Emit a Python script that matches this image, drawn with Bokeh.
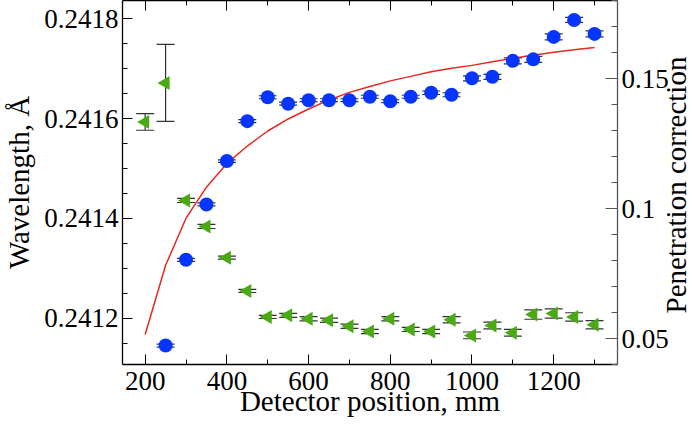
import math
import numpy as np
from bokeh.plotting import figure
from bokeh.models import ColumnDataSource, Range1d, LinearAxis, FixedTicker, Whisker, TeeHead, Div
from bokeh.layouts import row
from bokeh.embed import file_html
from bokeh.resources import INLINE

# ---------------- data ----------------
positions_blue = [250, 300, 350, 400, 450, 500, 550, 600, 650, 700, 750, 800,
                  850, 900, 950, 1000, 1050, 1100, 1150, 1200, 1250, 1300]
wavelength = [0.241145, 0.241317, 0.241428, 0.241515, 0.241595, 0.241643, 0.241630,
              0.241637, 0.241637, 0.241637, 0.241644, 0.241635, 0.241644, 0.241652,
              0.241648, 0.241681, 0.241684, 0.241716, 0.241719, 0.241764, 0.241798,
              0.241770]
wavelength_err = [3e-6, 3e-6, 3e-6, 2.5e-6, 3e-6, 3e-6, 3e-6, 3e-6, 3e-6, 3e-6, 3e-6,
                  3e-6, 3e-6, 3.5e-6, 4e-6, 5e-6, 5e-6, 6e-6, 6e-6, 6e-6, 5e-6, 6e-6]

positions_green = [200, 250, 300, 350, 400, 450, 500, 550, 600, 650, 700, 750, 800,
                   850, 900, 950, 1000, 1050, 1100, 1150, 1200, 1250, 1300]
penetration = [0.1333, 0.1483, 0.1031, 0.0931, 0.0811, 0.0683, 0.0583, 0.0589, 0.0576,
               0.0570, 0.0547, 0.0527, 0.0576, 0.0535, 0.0527, 0.0572, 0.0512, 0.0550,
               0.0522, 0.0592, 0.0596, 0.0583, 0.0553]
penetration_err = [0.0032, 0.0148, 0.0008, 0.0008, 0.0006, 0.0006, 0.0006, 0.0008, 0.0008,
                   0.0008, 0.0008, 0.0008, 0.0008, 0.0008, 0.0008, 0.0012, 0.0013, 0.0013,
                   0.0013, 0.0018, 0.0018, 0.0016, 0.0016]

fit_positions = [200, 250, 300, 350, 400, 450, 500, 550, 600, 650, 700, 750, 800,
                 850, 900, 950, 1000, 1050, 1100, 1150, 1200, 1250, 1300]
fit_wavelength = [0.2411672, 0.2413059, 0.2414004, 0.2414627, 0.2415099, 0.2415451,
                  0.2415753, 0.2415994, 0.2416195, 0.2416376, 0.2416527, 0.2416647,
                  0.2416758, 0.2416848, 0.2416939, 0.2417009, 0.2417069, 0.2417140,
                  0.2417210, 0.2417271, 0.2417331, 0.2417381, 0.2417427]

x_ticks = [200, 400, 600, 800, 1000, 1200]
x_tick_labels = ["200", "400", "600", "800", "1000", "1200"]
x_minor_ticks = [100, 300, 500, 700, 900, 1100, 1300]

left_ticks = [0.2412, 0.2414, 0.2416, 0.2418]
left_tick_labels = ["0.2412", "0.2414", "0.2416", "0.2418"]
left_minor_ticks = [round(0.2411 + 0.00005 * i, 5) for i in range(16)]

right_ticks = [0.05, 0.1, 0.15]
right_tick_labels = ["0.05", "0.1", "0.15"]
right_minor_ticks = [round(0.04 + 0.01 * i, 2) for i in range(15)]

x_label = "Detector position, mm"
left_label = "Wavelength, Å"
right_label = "Penetration correction"

# ---------------- style ----------------
FONT = "Liberation Serif"
BLUE = "#0535ff"
GREEN = "#4aaa14"
RED = "#e8281e"
ERR = "#333333"

fig = figure(width=671, height=427,
             x_range=Range1d(144.5, 1356.2), y_range=Range1d(0.2411070, 0.2418370),
             output_backend="svg", toolbar_location=None,
             min_border_left=117, min_border_right=52, min_border_top=0, min_border_bottom=63,
             background_fill_color="white", border_fill_color="white", outline_line_color=None)
fig.extra_y_ranges = {"right": Range1d(0.0400, 0.1800)}
fig.xgrid.grid_line_color = None
fig.ygrid.grid_line_color = None


def style_axis(ax, color="black", tick_in=10, minor_in=5):
    ax.axis_line_color = color
    ax.axis_line_width = 1.3
    ax.major_tick_line_color = color
    ax.minor_tick_line_color = color
    ax.major_tick_in = tick_in
    ax.major_tick_out = 0
    ax.minor_tick_in = minor_in
    ax.minor_tick_out = 0
    ax.major_label_text_font = FONT
    ax.major_label_text_font_size = "27px"
    ax.major_label_text_color = "black"
    ax.axis_label_text_font = FONT
    ax.axis_label_text_font_size = "29px"
    ax.axis_label_text_font_style = "normal"
    ax.axis_label_text_color = "black"


xa = fig.xaxis[0]
xa.ticker = FixedTicker(ticks=x_ticks, minor_ticks=x_minor_ticks)
xa.major_label_overrides = dict(zip(x_ticks, x_tick_labels))
xa.axis_label = x_label
style_axis(xa)
xa.major_label_standoff = 7
xa.axis_label_standoff = -8

ya = fig.yaxis[0]
ya.ticker = FixedTicker(ticks=left_ticks, minor_ticks=left_minor_ticks)
ya.major_label_overrides = dict(zip(left_ticks, left_tick_labels))
ya.axis_label = left_label
style_axis(ya)
ya.major_label_standoff = 4
ya.axis_label_standoff = 6

top = LinearAxis(ticker=FixedTicker(ticks=x_ticks, minor_ticks=x_minor_ticks))
style_axis(top)
top.major_label_text_font_size = "1px"
top.major_label_text_color = None
top.major_label_standoff = 0
fig.add_layout(top, "above")

ra = LinearAxis(y_range_name="right",
                ticker=FixedTicker(ticks=right_ticks, minor_ticks=right_minor_ticks))
style_axis(ra, color="#555555", tick_in=12, minor_in=6)
ra.major_label_overrides = dict(zip(right_ticks, right_tick_labels))
ra.major_label_standoff = 4
fig.add_layout(ra, "right")

# ---------------- glyphs ----------------
fig.line(fit_positions, fit_wavelength, line_color=RED, line_width=1.5)

wl = np.array(wavelength)
we = np.array(wavelength_err)
src_b = ColumnDataSource(dict(base=positions_blue, lower=wl - we, upper=wl + we))
fig.add_layout(Whisker(source=src_b, base="base", lower="lower", upper="upper",
                       line_color=ERR, line_width=1.2, level="underlay",
                       upper_head=TeeHead(size=18, line_color=ERR, line_width=1.2),
                       lower_head=TeeHead(size=18, line_color=ERR, line_width=1.2)))

pn = np.array(penetration)
pe = np.array(penetration_err)
src_g = ColumnDataSource(dict(base=positions_green, lower=pn - pe, upper=pn + pe))
fig.add_layout(Whisker(source=src_g, base="base", lower="lower", upper="upper",
                       y_range_name="right",
                       line_color=ERR, line_width=1.2, level="underlay",
                       upper_head=TeeHead(size=18, line_color=ERR, line_width=1.2),
                       lower_head=TeeHead(size=18, line_color=ERR, line_width=1.2)))

fig.scatter(positions_blue, wavelength, marker="circle", size=14,
            fill_color=BLUE, line_color=None)
fig.scatter(positions_green, penetration, marker="triangle", angle=math.pi / 2, size=14,
            fill_color=GREEN, line_color=None, y_range_name="right")

# right-hand axis title, reading bottom to top as in the original
side_html = (
    '<div style="position:relative;width:21px;height:427px;overflow:visible;">'
    '<div style="position:absolute;left:-5px;top:185px;transform-origin:0 0;'
    'transform:rotate(-90deg) translateX(-50%);white-space:nowrap;'
    "font-family:'Liberation Serif';font-size:29px;line-height:20px;color:black;\">"
    + right_label + '</div></div>'
)
side = Div(text=side_html, width=21, height=427, margin=0, styles={"overflow": "visible"})

p = row(fig, side, spacing=0)

open("out.html", "w").write(file_html(p, INLINE))
